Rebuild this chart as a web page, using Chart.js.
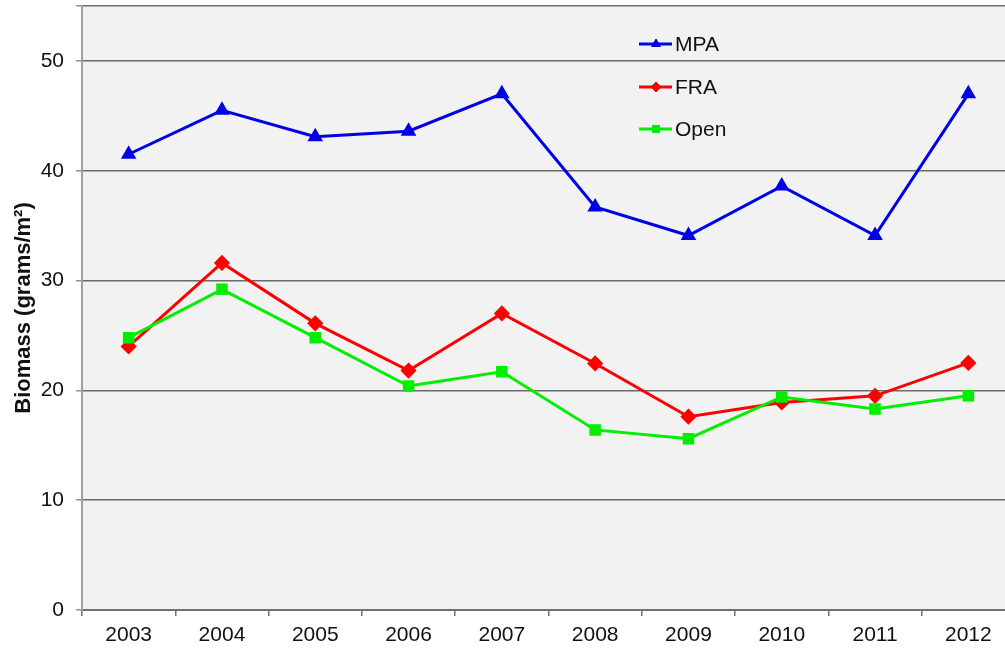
<!DOCTYPE html>
<html>
<head>
<meta charset="utf-8">
<script src="https://cdn.jsdelivr.net/npm/chart.js@4.4.1/dist/chart.umd.min.js"></script>
<style>
  html, body { margin: 0; padding: 0; background: #fff; overflow: hidden; }
  #wrap { position: relative; width: 1024px; height: 652px; margin-top: -3px; }
</style>
</head>
<body>
<div id="wrap"><canvas id="graf"></canvas></div>
<script>
const years = ["2003", "2004", "2005", "2006", "2007", "2008", "2009", "2010", "2011", "2012"];
const mpa = [41.5, 45.5, 43.1, 43.6, 47.0, 36.7, 34.1, 38.6, 34.1, 47.0];
const fra = [24.0, 31.6, 26.1, 21.8, 27.0, 22.45, 17.6, 18.9, 19.5, 22.5];
const open = [24.8, 29.2, 24.8, 20.4, 21.7, 16.4, 15.6, 19.4, 18.3, 19.5];
const yTicks = [0, 10, 20, 30, 40, 50];

const fontName = "'Liberation Sans', Arial, sans-serif";

// grey plot background
const plotBg = {
    id: "plotBg",
    beforeDraw(chart) {
        const a = chart.chartArea;
        const ctx = chart.ctx;
        ctx.save();
        ctx.fillStyle = "#f2f2f2";
        ctx.fillRect(a.left, a.top, a.right - a.left, a.bottom - a.top);
        ctx.restore();
    }
};

// legend drawn inside the plot, stacked
const innerLegend = {
    id: "innerLegend",
    afterDraw(chart) {
        const ctx = chart.ctx;
        const rows = [47, 90, 132];
        chart.data.datasets.forEach((ds, i) => {
            const y = rows[i];
            ctx.save();
            ctx.strokeStyle = ds.borderColor;
            ctx.lineWidth = 3;
            ctx.beginPath();
            ctx.moveTo(639, y);
            ctx.lineTo(672, y);
            ctx.stroke();
            ctx.fillStyle = ds.backgroundColor;
            ctx.strokeStyle = ds.borderColor;
            ctx.lineWidth = 1;
            Chart.helpers.drawPoint(ctx, {pointStyle: ds.pointStyle, radius: ds.pointRadius - 1, borderWidth: 1}, 656, y);
            ctx.fillStyle = "#111";
            ctx.font = "21px " + fontName;
            ctx.textBaseline = "middle";
            ctx.textAlign = "left";
            ctx.fillText(ds.label, 675, y + 1);
            ctx.restore();
        });
    }
};

new Chart(document.getElementById("graf"), {
    type: "line",
    data: {
        labels: years,
        datasets: [{
            label: "MPA",
            data: mpa,
            borderColor: "#0000e6",
            backgroundColor: "#0000e6",
            borderWidth: 3,
            pointStyle: "triangle",
            pointRadius: 6,
            tension: 0,
            order: 2
        }, {
            label: "FRA",
            data: fra,
            borderColor: "#ff0000",
            backgroundColor: "#ff0000",
            borderWidth: 3,
            pointStyle: "rectRot",
            pointRadius: 6,
            tension: 0,
            order: 1
        }, {
            label: "Open",
            data: open,
            borderColor: "#00ee00",
            backgroundColor: "#00ee00",
            borderWidth: 3,
            pointStyle: "rect",
            pointRadius: 6,
            tension: 0,
            order: 0
        }]
    },
    options: {
        responsive: true,
        maintainAspectRatio: false,
        animation: false,
        layout: { padding: { top: 2, right: 2, left: 0, bottom: 0 } },
        plugins: {
            legend: { display: false },
            tooltip: { enabled: false }
        },
        scales: {
            x: {
                offset: true,
                grid: {
                    offset: true,
                    drawOnChartArea: false,
                    drawTicks: true,
                    tickLength: 6,
                    color: "#707070",
                    lineWidth: 1.5
                },
                border: { color: "#707070", width: 2 },
                ticks: {
                    color: "#111",
                    padding: 7,
                    font: { family: fontName, size: 21 }
                },
                afterFit(scale) {
                    scale.height = 39;
                    scale.paddingLeft = 0;
                    scale.paddingRight = 0;
                }
            },
            y: {
                min: 0,
                max: 55,
                afterBuildTicks(scale) {
                    scale.ticks = yTicks.concat([55]).map(v => ({ value: v }));
                },
                grid: {
                    color: "#6a6a6a",
                    lineWidth: 1.5,
                    tickLength: 6,
                    tickColor: "#909090"
                },
                border: { color: "#a0a0a0", width: 2 },
                ticks: {
                    color: "#111",
                    padding: 12,
                    font: { family: fontName, size: 21 },
                    callback: (v) => (yTicks.includes(v) ? v : "")
                },
                title: {
                    display: true,
                    text: "Biomass (grams/m²)",
                    color: "#111",
                    padding: { top: 11, bottom: 0 },
                    font: { family: fontName, size: 22, weight: "bold" }
                },
                afterFit(scale) {
                    scale.width = 82;
                    scale.paddingTop = 0;
                    scale.paddingBottom = 0;
                }
            }
        }
    },
    plugins: [plotBg, innerLegend]
});
</script>
</body>
</html>
